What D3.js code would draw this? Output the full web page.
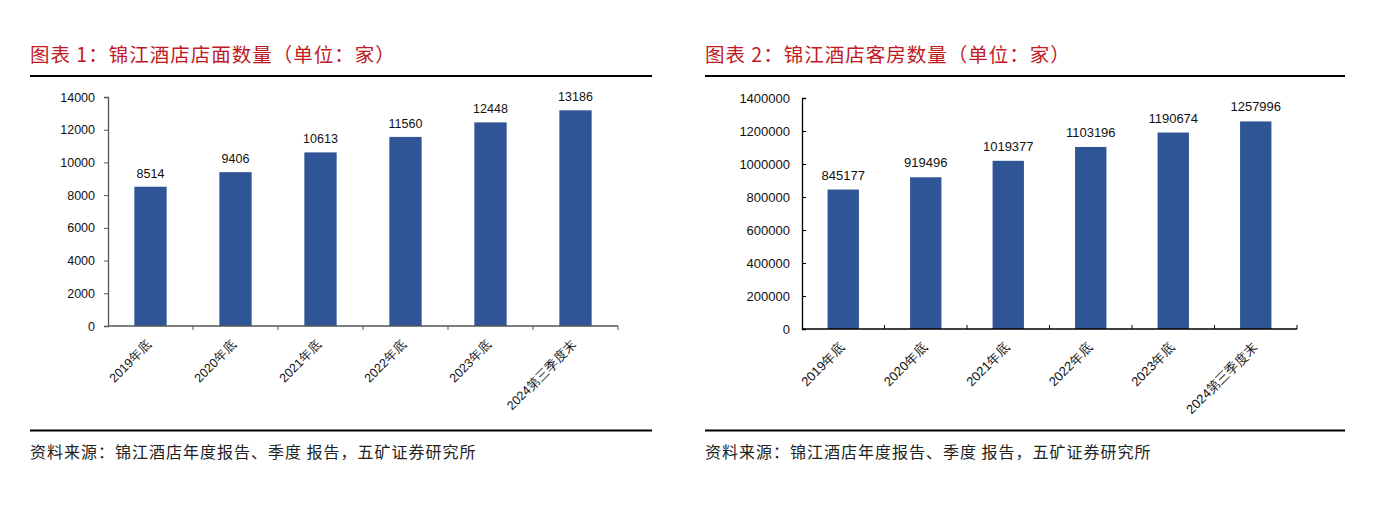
<!DOCTYPE html>
<html><head><meta charset="utf-8">
<script src="https://cdn.jsdelivr.net/npm/d3@7/dist/d3.min.js"></script>
<style>
body{margin:0;background:#fff;}
svg{display:block;}
</style></head>
<body>
<svg id="c" width="1376" height="531"></svg>
<script>
const categories = ["2019年底","2020年底","2021年底","2022年底","2023年底","2024第三季度末"];
const storeCounts = [8514, 9406, 10613, 11560, 12448, 13186];
const roomCounts = [845177, 919496, 1019377, 1103196, 1190674, 1257996];
const storeTicks = [0,2000,4000,6000,8000,10000,12000,14000];
const roomTicks = [0,200000,400000,600000,800000,1000000,1200000,1400000];
const titles = ["图表 1：锦江酒店店面数量（单位：家）","图表 2：锦江酒店客房数量（单位：家）"];
const sourceText = "资料来源：锦江酒店年度报告、季度 报告，五矿证券研究所";

const svg = d3.select("#c");
const CJK = "'Noto Sans CJK SC','Noto Sans',sans-serif";
const NUM = "'Liberation Sans',Arial,sans-serif";
const BAR = "#2F5597";

function panel(cfg){
  const g = svg.append("g");
  // title
  g.append("text").attr("x", cfg.px).attr("y", 62).attr("font-family", CJK)
    .attr("font-size", 19.5).attr("letter-spacing", 1).attr("fill", "#C0191F").text(cfg.title);
  g.append("line").attr("x1", cfg.px).attr("x2", cfg.px2).attr("y1", 76).attr("y2", 76)
    .attr("stroke", "#000").attr("stroke-width", 2);
  g.append("line").attr("x1", cfg.px).attr("x2", cfg.px2).attr("y1", 430.5).attr("y2", 430.5)
    .attr("stroke", "#000").attr("stroke-width", 2);
  g.append("text").attr("x", cfg.px).attr("y", 458).attr("font-family", CJK)
    .attr("font-size", 16).attr("letter-spacing", 1).attr("fill", "#222").text(sourceText);

  const x = d3.scaleBand().domain(categories).range([cfg.x0, cfg.x1])
    .paddingInner(0.62).paddingOuter(0.31);
  const y = d3.scaleLinear().domain([0, cfg.max]).range([cfg.y0, cfg.y1]);

  // bars
  g.selectAll("rect.bar").data(cfg.values).join("rect")
    .attr("x", (d,i)=>x(categories[i])).attr("width", x.bandwidth())
    .attr("y", d=>y(d)).attr("height", d=>y(0)-y(d)).attr("fill", BAR);

  // value labels
  g.selectAll("text.val").data(cfg.values).join("text")
    .attr("x", (d,i)=>x(categories[i]) + x.bandwidth()/2)
    .attr("y", d=>y(d) - cfg.labOff)
    .attr("text-anchor", "middle").attr("font-family", NUM)
    .attr("font-size", cfg.fs).attr("fill", "#111").text(d=>d);

  // y axis
  const ya = d3.axisLeft(y).tickValues(cfg.ticks).tickSize(cfg.yTick).tickPadding(cfg.yPad).tickFormat(d=>d);
  const yg = g.append("g").attr("transform", `translate(${cfg.x0},0)`).call(ya);
  yg.select(".domain").attr("stroke", cfg.axisColor).attr("stroke-width", 1.3);
  yg.selectAll(".tick line").attr("stroke", cfg.axisColor);
  yg.selectAll(".tick text").attr("font-family", NUM).attr("font-size", cfg.fs).attr("fill", "#111");

  // x axis line
  g.append("line").attr("x1", cfg.x0).attr("x2", cfg.x1).attr("y1", y(0)).attr("y2", y(0))
    .attr("stroke", cfg.axisColor).attr("stroke-width", 1.3);
  // x boundary ticks
  const bounds = categories.map(c => x(c) - x.step()*0.31 + x.step());
  g.selectAll("line.xt").data(bounds).join("line")
    .attr("x1", d=>d).attr("x2", d=>d).attr("y1", y(0)).attr("y2", y(0) + cfg.xTick)
    .attr("stroke", cfg.axisColor).attr("stroke-width", 1);

  // x labels rotated
  g.selectAll("text.xl").data(categories).join("text")
    .attr("transform", d=>`translate(${x(d)+x.bandwidth()/2-1},${y(0)+16}) rotate(-45)`)
    .attr("text-anchor", "end").attr("dy", "0.35em")
    .attr("font-family", NUM).attr("font-size", cfg.xfs).attr("fill", "#111").text(d=>d);
}

panel({px:30, px2:652, title:titles[0], values:storeCounts, ticks:storeTicks, max:14000,
  x0:108, x1:618, y0:326, y1:97, fs:12.5, xfs:12.5, labOff:9, yTick:4, yPad:9, xTick:4,
  axisColor:"#555"});
panel({px:705, px2:1345, title:titles[1], values:roomCounts, ticks:roomTicks, max:1400000,
  x0:802, x1:1297, y0:329, y1:98, fs:13, xfs:13, labOff:10, yTick:-4, yPad:12, xTick:-4,
  axisColor:"#000"});
</script>
</body></html>
